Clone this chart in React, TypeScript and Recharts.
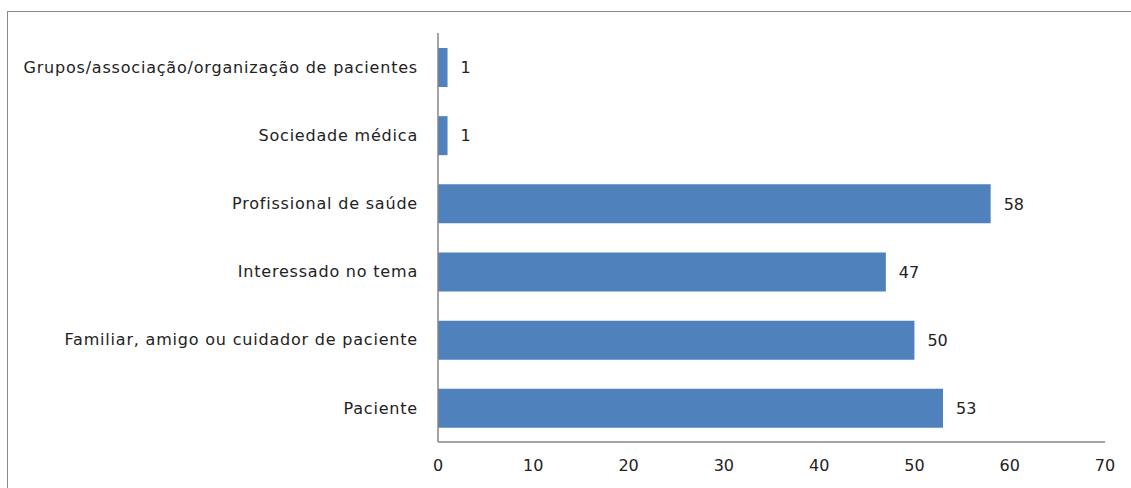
import React from "react";
import { BarChart, Bar, XAxis, YAxis, LabelList } from "recharts";

const categories = [
  "Grupos/associação/organização de pacientes",
  "Sociedade médica",
  "Profissional de saúde",
  "Interessado no tema",
  "Familiar, amigo ou cuidador de paciente",
  "Paciente",
];
const counts = [1, 1, 58, 47, 50, 53];
const xTicks = [0, 10, 20, 30, 40, 50, 60, 70];

const data = categories.map((name, i) => ({ name, value: counts[i] }));

const font = "'DejaVu Sans', sans-serif";
const axisColor = "#868686";
const textColor = "#222";

const App: React.FC = () => {
  return (
    <div
      style={{
        position: "absolute",
        left: 0,
        top: 0,
        width: 1131,
        height: 488,
        overflow: "hidden",
        background: "#fff",
      }}
    >
      <div
        style={{
          position: "absolute",
          left: 7,
          top: 11,
          width: 1200,
          height: 600,
          border: "1.5px solid #8a8a8a",
        }}
      />
      <div style={{ position: "absolute", left: 0, top: 0 }}>
        <BarChart
          width={1131}
          height={488}
          data={data}
          layout="vertical"
          margin={{ top: 33, right: 26, bottom: 0, left: 0 }}
        >
          <XAxis
            type="number"
            domain={[0, 70]}
            ticks={xTicks}
            height={46}
            tickLine={false}
            tickMargin={12}
            stroke={axisColor}
            strokeWidth={1.5}
            tick={{ fill: textColor, fontSize: 16, fontFamily: font }}
          />
          <YAxis
            type="category"
            dataKey="name"
            width={438}
            tickLine={false}
            tickMargin={14}
            stroke={axisColor}
            strokeWidth={1.5}
            tick={{ fill: textColor, fontSize: 16, fontFamily: font, letterSpacing: 0.8 }}
          />
          <Bar dataKey="value" fill="#4F81BD" barSize={39} isAnimationActive={false}>
            <LabelList
              dataKey="value"
              position="right"
              offset={13}
              style={{ fill: textColor, fontSize: 16, fontFamily: font }}
            />
          </Bar>
        </BarChart>
      </div>
    </div>
  );
};

export default App;
